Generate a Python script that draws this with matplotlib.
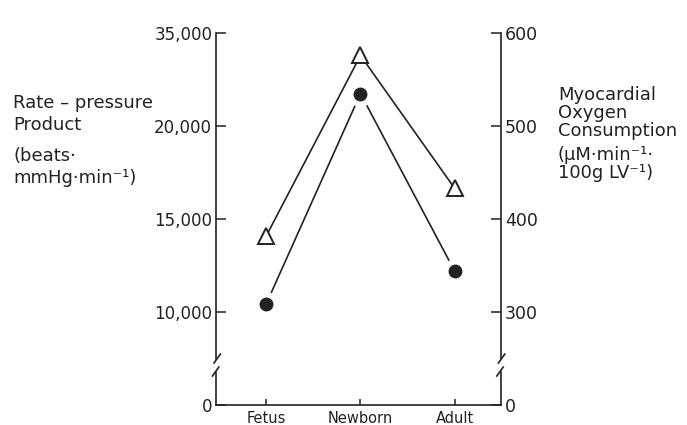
import matplotlib
matplotlib.use("Agg")
import matplotlib.pyplot as plt

plt.rcParams['font.family'] = ['DejaVu Sans']

# data
stages = ['Fetus', 'Newborn', 'Adult']
rate_pressure = [14100, 23800, 16650]      # left axis, beats.mmHg.min-1
mvo2 = [309, 535, 344]                     # right axis, uM.min-1.100g LV-1

left_ticks = [5000, 10000, 15000, 20000, 25000]
left_labels = ['0', '10,000', '15,000', '20,000', '35,000']
right_ticks = [200, 300, 400, 500, 600]
right_labels = ['0', '300', '400', '500', '600']

ink = '#222222'

fig = plt.figure(figsize=(6.87, 4.25), dpi=100)
ax = fig.add_axes([0.315, 0.047, 0.414, 0.875])
ax2 = ax.twinx()

x = list(range(len(stages)))

# triangles - rate pressure product
ax.plot(x, rate_pressure, color=ink, lw=1.2, zorder=4)
ax.plot(x, rate_pressure, ls='none', marker='^', ms=11.5, mfc='white',
        mec=ink, mew=1.4, zorder=5)

# circles - oxygen consumption (lines stop short of the dots)
ax2.plot(x, mvo2, color=ink, lw=1.2, zorder=2)
ax2.plot(x, mvo2, ls='none', marker='o', ms=17, mfc='white', mec='white', zorder=3)
ax2.plot(x, mvo2, ls='none', marker='o', ms=9, mfc=ink, mec=ink, zorder=5)
# keep triangle line above the white halos
ax.set_zorder(ax2.get_zorder() + 1)
ax.patch.set_visible(False)

ax.set_xlim(-0.53, 2.49)
ax.set_ylim(5000, 25000)
ax2.set_ylim(200, 600)

ax.set_yticks(left_ticks)
ax.set_yticklabels(left_labels)
ax2.set_yticks(right_ticks)
ax2.set_yticklabels(right_labels)
ax.set_xticks(x)
ax.set_xticklabels(stages)

ax.tick_params(axis='y', direction='in', length=7, width=1.1, color=ink,
               labelsize=12, labelcolor=ink, pad=3)
ax2.tick_params(axis='y', direction='in', length=7, width=1.1, color=ink,
                labelsize=12.5, labelcolor=ink, pad=3)
ax.tick_params(axis='x', direction='in', length=4, width=1.1, color=ink,
               labelsize=10.5, labelcolor=ink, pad=4)

for a in (ax, ax2):
    for s in ('top', 'left', 'right'):
        a.spines[s].set_visible(False)
ax2.spines['bottom'].set_visible(False)
ax.spines['bottom'].set_color(ink)
ax.spines['bottom'].set_linewidth(1.2)

# broken vertical axes drawn by hand
tr = ax.transAxes
gap_lo, gap_hi = 0.09, 0.125
for xa in (0.0, 1.0):
    ax.plot([xa, xa], [0, gap_lo], color=ink, lw=1.2, transform=tr, clip_on=False)
    ax.plot([xa, xa], [gap_hi, 1.0], color=ink, lw=1.2, transform=tr, clip_on=False)
    dx = 0.014
    ax.plot([xa - dx, xa + dx * 0.6], [gap_lo - 0.012, gap_lo + 0.012],
            color=ink, lw=1.2, transform=tr, clip_on=False)
    ax.plot([xa - dx * 0.6, xa + dx], [gap_hi - 0.012, gap_hi + 0.012],
            color=ink, lw=1.2, transform=tr, clip_on=False)

fig.text(0.019, 0.732, 'Rate – pressure\nProduct', fontsize=13, color=ink,
         va='center', ha='left', linespacing=1.3)
fig.text(0.019, 0.607, '(beats·\nmmHg·min⁻¹)', fontsize=13, color=ink,
         va='center', ha='left', linespacing=1.3)

fig.text(0.812, 0.734, 'Myocardial\nOxygen\nConsumption', fontsize=13, color=ink,
         va='center', ha='left', linespacing=1.0)
fig.text(0.812, 0.615, '(µM·min⁻¹·\n100g LV⁻¹)', fontsize=13, color=ink,
         va='center', ha='left', linespacing=1.0)

fig.savefig('out.png', dpi=100, facecolor='white')
